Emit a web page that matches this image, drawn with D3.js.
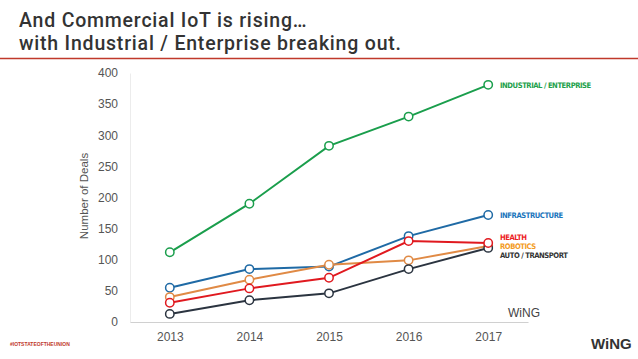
<!DOCTYPE html>
<html><head><meta charset="utf-8">
<script src="https://cdn.jsdelivr.net/npm/d3@7"></script>
<style>body{margin:0;background:#fff}svg{display:block}</style>
</head><body>
<svg id="c" width="638" height="359"></svg>
<script>
const years = ["2013","2014","2015","2016","2017"];
const yTicks = [0,50,100,150,200,250,300,350,400];
const seriesNames = ["AUTO / TRANSPORT","HEALTH","ROBOTICS","INFRASTRUCTURE","INDUSTRIAL / ENTERPRISE"];
const autoTransport = [13,35,46,85,119];
const health = [31,54,71,130,127];
const robotics = [40,68,92,99,122];
const infrastructure = [55,85,89,138,172];
const industrial = [112,190,283,330,381];
const lineColors = ["#2b3440","#e0191f","#e08a45","#1f6aa5","#1a9e4c"];
const labelColors = ["#333333","#ed1c24","#f39c1f","#1a75bc","#21a04a"];
const labelY = [255.2,237.4,246.3,215,85];

const svg = d3.select("#c");
const W=638,H=359;
svg.append("rect").attr("width",W).attr("height",H).attr("fill","#fff");

// title
const tStyle = s => s.attr("fill","#333").style("font-family","Roboto, 'Liberation Sans', sans-serif")
  .style("font-weight","500").style("font-size","19.5px").style("letter-spacing","0.8px");
svg.append("text").attr("x",19).attr("y",27).call(tStyle).text("And Commercial IoT is rising…");
svg.append("text").attr("x",19).attr("y",50).call(tStyle).text("with Industrial / Enterprise breaking out.");
svg.append("line").attr("x1",0).attr("x2",W).attr("y1",58.5).attr("y2",58.5).attr("stroke","#c0392b").attr("stroke-width",1.5);

const x = d3.scalePoint().domain(years).range([130,528]).padding(0.5);
const y = d3.scaleLinear().domain([0,400]).range([322,73]);

// axes
const yAx = svg.append("g").attr("transform","translate(130,0)")
  .call(d3.axisLeft(y).tickValues(yTicks).tickSize(0).tickPadding(12));
yAx.select(".domain").attr("stroke","#ececec");
yAx.selectAll("text").attr("fill","#555").style("font-family","'Liberation Sans', Arial, sans-serif").style("font-size","12px");

const xAx = svg.append("g").attr("transform","translate(0,322)")
  .call(d3.axisBottom(x).tickSize(0).tickPadding(10));
xAx.select(".domain").attr("stroke","#d0d0d0").attr("stroke-width",1.2);
xAx.selectAll("text").attr("fill","#555").style("font-family","'Liberation Sans', Arial, sans-serif").style("font-size","12px");

svg.append("text").attr("transform","translate(88,196) rotate(-90)").attr("text-anchor","middle")
  .attr("fill","#555").style("font-family","'Liberation Sans', Arial, sans-serif").style("font-size","11.5px").text("Number of Deals");

const data = [autoTransport, health, robotics, infrastructure, industrial];
const line = d3.line().x((d,i)=>x(years[i])).y(d=>y(d));
const order = [4,3,2,0,1];
order.forEach(k=>{
  svg.append("path").datum(data[k]).attr("d",line).attr("fill","none")
    .attr("stroke",lineColors[k]).attr("stroke-width",2);
});
order.forEach(k=>{
  svg.selectAll(null).data(data[k]).enter().append("circle")
    .attr("cx",(d,i)=>x(years[i])).attr("cy",d=>y(d)).attr("r",4.2)
    .attr("fill","#fff").attr("stroke",lineColors[k]).attr("stroke-width",1.5);
});

// labels
seriesNames.forEach((n,k)=>{
  svg.append("text").attr("x",500).attr("y",labelY[k]).attr("dy","0.35em")
    .attr("fill",labelColors[k])
    .style("font-family","'Liberation Sans Narrow','DejaVu Sans Condensed',sans-serif")
    .style("font-weight","bold").style("font-size","7.6px").style("letter-spacing","-0.45px").text(n);
});

svg.append("text").attr("x",508).attr("y",317).attr("fill","#444")
  .style("font-family","'Liberation Sans', Arial, sans-serif").style("font-size","12px").text("WiNG");
svg.append("text").attr("x",591).attr("y",349).attr("fill","#333")
  .style("font-family","'Liberation Sans', Arial, sans-serif").style("font-weight","bold").style("font-size","15px").text("WiNG");
svg.append("text").attr("x",10).attr("y",346).attr("fill","#c0392b")
  .style("font-family","'Liberation Sans Narrow', Arial, sans-serif").style("font-weight","bold").style("font-size","5px").text("#IOTSTATEOFTHEUNION");
</script>
</body></html>
